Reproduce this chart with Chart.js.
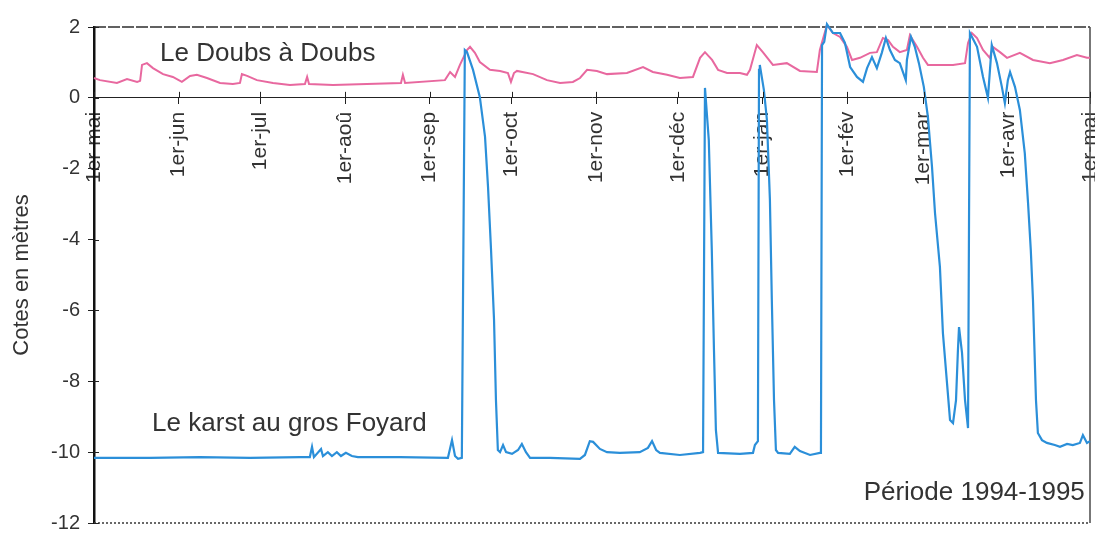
<!DOCTYPE html>
<html>
<head>
<meta charset="utf-8">
<script src="https://cdn.jsdelivr.net/npm/chart.js@4/dist/chart.umd.min.js"></script>
<style>
  html, body { margin: 0; padding: 0; background: #fff; }
  #wrap { width: 1095px; height: 536px; }
</style>
</head>
<body>
<div id="wrap"><canvas id="c" width="1095" height="536"></canvas></div>
<script>
// Day number counted from 1 May 1994, level in metres.
const monthStarts = [0, 31, 61, 92, 123, 153, 184, 214, 245, 276, 304, 335, 365];
const monthLabels = ['1er-mai', '1er-jun', '1er-jul', '1er-aoû', '1er-sep', '1er-oct', '1er-nov',
                     '1er-déc', '1er-jan', '1er-fév', '1er-mar', '1er-avr', '1er-mai'];
const yTicks = { min: -12, max: 2, step: 2 };

// Le Doubs à Doubs : [jour, cote]
const doubsReadings = [
  [0, 0.56], [2.2, 0.50], [8.4, 0.42], [12.1, 0.53], [15.8, 0.45], [16.9, 0.48], [17.6, 0.93],
  [19.4, 0.98], [21.6, 0.84], [25.3, 0.67], [28.9, 0.59], [32.2, 0.45], [35.2, 0.62], [37.7, 0.65],
  [41.4, 0.56], [46.2, 0.42], [50.9, 0.39], [53.5, 0.42], [54.2, 0.67], [56.1, 0.62], [59.7, 0.50],
  [65.6, 0.42], [71.8, 0.36], [77.3, 0.39], [78.1, 0.59], [78.8, 0.39], [87.6, 0.36], [100, 0.39],
  [112.5, 0.42], [113.2, 0.65], [114, 0.42], [128.6, 0.50], [130.5, 0.73], [132.3, 0.59],
  [134.1, 0.93], [136.7, 1.35], [137.8, 1.44], [139.6, 1.27], [141.4, 1.01], [145.1, 0.79],
  [148.8, 0.76], [151.7, 0.70], [152.8, 0.45], [153.9, 0.70], [155, 0.76], [160.9, 0.67],
  [166, 0.50], [170.8, 0.42], [175.5, 0.45], [178.1, 0.56], [180.7, 0.79], [184.3, 0.76],
  [188, 0.67], [195.3, 0.70], [201.2, 0.87], [204.8, 0.73], [210, 0.65], [214.7, 0.56],
  [219.5, 0.59], [222.1, 1.13], [223.9, 1.29], [226.5, 1.07], [228.7, 0.79], [232, 0.70],
  [236.7, 0.70], [239.3, 0.65], [240.4, 0.79], [242.9, 1.49], [245.1, 1.29], [248.8, 0.93],
  [253.9, 0.98], [258.7, 0.76], [264.9, 0.73], [266, 1.35], [268.6, 2.06], [270.8, 1.83],
  [273.4, 1.72], [275.9, 1.44], [277.8, 1.07], [280.7, 1.13], [284.4, 1.27], [286.9, 1.29],
  [289.1, 1.69], [291, 1.63], [292.8, 1.44], [295.3, 1.29], [297.9, 1.35], [299, 1.77],
  [301.6, 1.44], [303.8, 1.13], [305.6, 0.93], [314.8, 0.93], [319.2, 0.98], [320.3, 1.55],
  [321.7, 1.83], [323.6, 1.69], [325.8, 1.35], [328.3, 1.13], [329.4, 1.44], [332, 1.29],
  [334.6, 1.13], [339.3, 1.27], [344.1, 1.07], [350.3, 0.98], [355.1, 1.07], [360.2, 1.21],
  [363.9, 1.13], [365, 1.13]
];

// Le karst au gros Foyard : [jour, cote]
const karstReadings = [
  [0, -10.16], [20.5, -10.16], [38.8, -10.14], [57.2, -10.16], [75.5, -10.14], [79.1, -10.14],
  [79.9, -9.85], [80.6, -10.14], [83.2, -9.91], [83.9, -10.11], [85.7, -10.0], [87.2, -10.11],
  [89, -10.0], [90.5, -10.11], [92.3, -10.02], [94.5, -10.11], [96.7, -10.14], [112.1, -10.14],
  [129.7, -10.16], [131.2, -9.66], [132.3, -10.11], [133.4, -10.19], [134.8, -10.16],
  [135.9, 1.35], [136.7, 1.29], [138.9, 0.79], [141.4, 0.02], [143.3, -1.1], [144.4, -2.52],
  [145.5, -4.29], [146.6, -6.27], [147.3, -8.53], [148, -9.94], [148.8, -10.0], [149.9, -9.8],
  [151, -10.0], [153.2, -10.05], [155.4, -9.94], [156.8, -9.77], [158.3, -10.0], [159.8, -10.16],
  [167.1, -10.16], [178.1, -10.19], [179.9, -10.08], [181.7, -9.69], [182.9, -9.71],
  [185.4, -9.91], [188, -10.0], [192.7, -10.02], [200, -10.0], [203, -9.88], [204.5, -9.69],
  [206, -9.94], [207.4, -10.02], [214.7, -10.08], [222.1, -10.02], [223.2, -10.0],
  [223.9, 0.28], [225.3, -1.19], [226.4, -4.29], [227.2, -7.12], [227.9, -9.37], [228.7, -10.02],
  [236.7, -10.05], [241.5, -10.02], [242.2, -9.8], [243.3, -9.69], [243.7, 0.79], [244, 0.93],
  [245.5, 0.22], [246.6, -0.62], [247.7, -2.88], [248.4, -5.7], [249.2, -8.53], [249.9, -9.94],
  [250.7, -10.02], [255, -10.05], [256.8, -9.85], [258.7, -9.97], [262.4, -10.08], [266, -10.02],
  [266.4, -10.02], [266.8, 1.49], [267.6, 1.58], [268.6, 2.08], [270.8, 1.83], [273.4, 1.83],
  [275.2, 1.55], [277.1, 0.87], [279.6, 0.59], [281.8, 0.45], [283.3, 0.84], [285.1, 1.15],
  [286.9, 0.84], [288.7, 1.27], [290.2, 1.69], [291.7, 1.35], [293.5, 1.07], [295.3, 0.98],
  [297.5, 0.5], [297.9, 1.07], [299.4, 1.72], [300.8, 1.44], [302.3, 0.98], [304.1, 0.31],
  [305.6, -0.54], [307.1, -1.95], [308.2, -3.25], [310, -4.77], [311.1, -6.64], [312.6, -8.05],
  [313.7, -9.09], [314.8, -9.18], [315.9, -8.53], [316.6, -7.12], [317, -6.47], [318.1, -7.2],
  [319.2, -8.53], [320.3, -9.32], [321, 1.83], [323.6, 1.44], [325.8, 0.59], [327.6, 0.0],
  [329, 1.49], [330.9, 0.98], [332.7, 0.31], [333.8, -0.15], [334.9, 0.5], [335.7, 0.73],
  [337.5, 0.31], [339.3, -0.34], [341.1, -1.56], [342.3, -2.97], [343.3, -4.29], [344.1, -5.7],
  [345.2, -8.53], [345.9, -9.46], [347.4, -9.66], [349.2, -9.74], [352.1, -9.8], [354, -9.85],
  [356.6, -9.77], [358.7, -9.8], [361.3, -9.74], [362.4, -9.52], [363.9, -9.74], [365, -9.69]
];

const FONT = "'Liberation Sans', Arial, sans-serif";
const INK = '#333333';

const toPoints = rows => rows.map(([x, y]) => ({ x, y }));

// Frame around the plot area: dashed top, plain right, dotted bottom.
const framePlugin = {
  id: 'frame',
  beforeDatasetsDraw(chart) {
    const { ctx, chartArea: a } = chart;
    ctx.save();
    ctx.lineWidth = 1.6;
    ctx.strokeStyle = '#2e2e2e';
    ctx.setLineDash([12, 2]);
    ctx.beginPath(); ctx.moveTo(a.left, a.top); ctx.lineTo(a.right, a.top); ctx.stroke();
    ctx.setLineDash([]);
    ctx.strokeStyle = '#555';
    ctx.beginPath(); ctx.moveTo(a.right, a.top); ctx.lineTo(a.right, a.bottom); ctx.stroke();
    ctx.setLineDash([2, 2]);
    ctx.strokeStyle = '#444';
    ctx.beginPath(); ctx.moveTo(a.left, a.bottom); ctx.lineTo(a.right, a.bottom); ctx.stroke();
    ctx.restore();
  },
  // tick marks cross both axes
  afterDraw(chart) {
    const { ctx, chartArea: a, scales: { x, y } } = chart;
    const y0 = y.getPixelForValue(0);
    ctx.save();
    ctx.strokeStyle = '#222';
    ctx.lineWidth = 1;
    ctx.beginPath();
    x.ticks.forEach(t => {
      const px = Math.round(x.getPixelForValue(t.value)) + 0.5;
      ctx.moveTo(px, y0 - 6); ctx.lineTo(px, y0);
    });
    y.ticks.forEach(t => {
      const py = Math.round(y.getPixelForValue(t.value)) + 0.5;
      ctx.moveTo(a.left, py); ctx.lineTo(a.left + 5, py);
    });
    ctx.stroke();
    ctx.restore();
  }
};

// Series names and period written inside the plot.
const notesPlugin = {
  id: 'notes',
  afterDatasetsDraw(chart) {
    const { ctx, scales: { x, y } } = chart;
    const notes = [
      { text: 'Le Doubs à Doubs', day: 24.2, level: 1.04, align: 'left' },
      { text: 'Le karst au gros Foyard', day: 21.3, level: -9.40, align: 'left' },
      { text: 'Période 1994-1995', day: 363.1, level: -11.35, align: 'right' }
    ];
    ctx.save();
    ctx.fillStyle = INK;
    ctx.font = '26px ' + FONT;
    ctx.textBaseline = 'alphabetic';
    notes.forEach(n => {
      ctx.textAlign = n.align;
      ctx.fillText(n.text, x.getPixelForValue(n.day), y.getPixelForValue(n.level));
    });
    ctx.restore();
  }
};

new Chart(document.getElementById('c'), {
  type: 'line',
  data: {
    datasets: [
      {
        label: 'Le karst au gros Foyard',
        data: toPoints(karstReadings),
        borderColor: '#2b8fd9',
        borderWidth: 2.2,
        clip: 8
      },
      {
        label: 'Le Doubs à Doubs',
        data: toPoints(doubsReadings),
        borderColor: '#e8689f',
        borderWidth: 2,
        clip: 8
      }
    ]
  },
  options: {
    responsive: false,
    animation: false,
    layout: { padding: { left: 0, top: 27, right: 5, bottom: 13 } },
    elements: { point: { radius: 0 }, line: { tension: 0 } },
    plugins: { legend: { display: false }, tooltip: { enabled: false } },
    scales: {
      x: {
        type: 'linear',
        min: 0,
        max: 365,
        position: { y: 0 },
        afterBuildTicks: s => { s.ticks = monthStarts.map(v => ({ value: v })); },
        afterFit: s => { s.paddingLeft = 0; s.paddingRight = 0; },
        ticks: {
          autoSkip: false,
          minRotation: 90,
          maxRotation: 90,
          padding: 8,
          color: INK,
          font: { size: 21, family: FONT },
          callback: (v, i) => monthLabels[i]
        },
        grid: { drawOnChartArea: false, drawTicks: true, tickLength: 6, color: '#222', lineWidth: 1 },
        border: { display: true, color: '#222', width: 1, dash: [6, 3] }
      },
      y: {
        min: yTicks.min,
        max: yTicks.max,
        afterFit: s => { s.width = 94; s.paddingTop = 0; s.paddingBottom = 0; },
        ticks: { stepSize: yTicks.step, padding: 8, color: INK, font: { size: 20, family: FONT } },
        grid: { drawOnChartArea: false, tickLength: 6, color: '#222' },
        border: { color: '#111', width: 2.5 },
        title: {
          display: true,
          text: 'Cotes en mètres',
          color: INK,
          font: { size: 22, family: FONT },
          padding: { top: 9, bottom: 0 }
        }
      }
    }
  },
  plugins: [framePlugin, notesPlugin]
});
</script>
</body>
</html>
